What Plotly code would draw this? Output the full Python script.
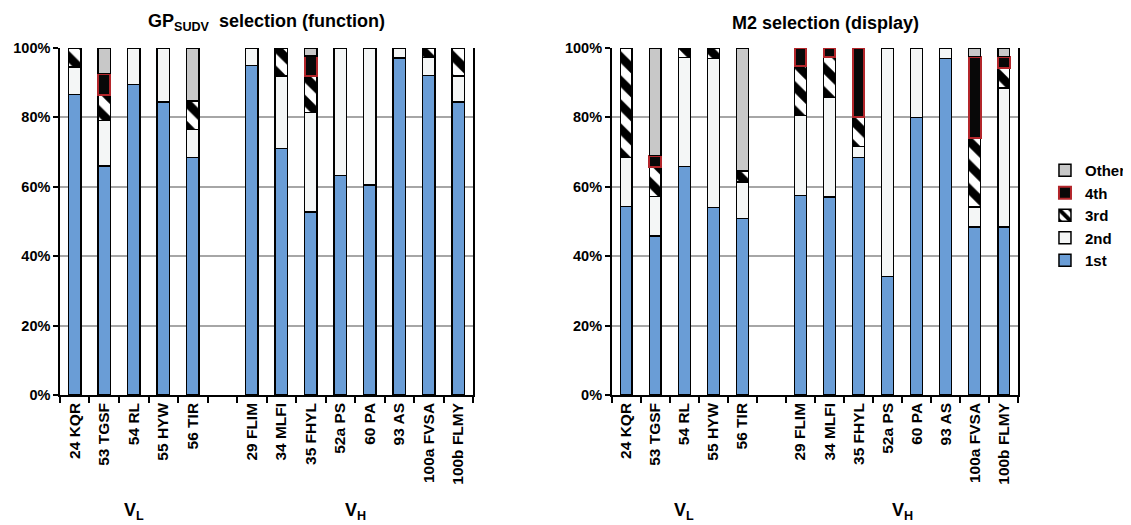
import plotly.graph_objects as go

categories = ["24 KQR", "53 TGSF", "54 RL", "55 HYW", "56 TIR",
              "29 FLIM", "34 MLFI", "35 FHYL", "52a PS", "60 PA", "93 AS", "100a FVSA", "100b FLMY"]
n_vl = 5  # first 5 categories are V_L, the rest V_H

# GP_SUDV selection (function), percent
gp_1st   = [86.6, 66.0, 89.5, 84.4, 68.5, 94.9, 71.0, 52.8, 63.2, 60.5, 97.1, 92.1, 84.4]
gp_2nd   = [8.0, 13.1, 10.5, 15.6, 8.0, 5.1, 21.0, 28.6, 36.8, 39.5, 2.9, 5.1, 7.6]
gp_3rd   = [5.4, 7.3, 0, 0, 8.3, 0, 8.0, 10.6, 0, 0, 0, 2.8, 8.0]
gp_4th   = [0, 6.2, 0, 0, 0, 0, 0, 5.7, 0, 0, 0, 0, 0]
gp_other = [0, 7.4, 0, 0, 15.2, 0, 0, 2.3, 0, 0, 0, 0, 0]

# M2 selection (display), percent
m2_1st   = [54.3, 45.8, 65.8, 54.0, 50.8, 57.5, 57.1, 68.5, 34.1, 80.0, 97.0, 48.4, 48.4]
m2_2nd   = [14.2, 11.4, 31.5, 43.0, 10.6, 23.1, 28.6, 3.1, 65.9, 20.0, 3.0, 5.8, 40.1]
m2_3rd   = [31.5, 8.6, 2.7, 3.0, 3.2, 14.2, 11.6, 8.5, 0, 0, 0, 19.9, 5.8]
m2_4th   = [0, 3.2, 0, 0, 0, 5.2, 2.7, 19.9, 0, 0, 0, 23.4, 3.2]
m2_other = [0, 31.0, 0, 0, 35.4, 0, 0, 0, 0, 0, 0, 2.5, 2.5]

y_ticks = [0, 20, 40, 60, 80, 100]
y_ticktext = ["0%", "20%", "40%", "60%", "80%", "100%"]

series_names = ["1st", "2nd", "3rd", "4th", "Other"]
panels = [
    ("GP<sub>SUDV</sub>\u00a0\u00a0selection (function)", [gp_1st, gp_2nd, gp_3rd, gp_4th, gp_other]),
    ("M2 selection (display)", [m2_1st, m2_2nd, m2_3rd, m2_4th, m2_other]),
]

# positions on the category axis, leaving one empty slot between V_L and V_H
pos = [i + (1 if i >= n_vl else 0) for i in range(len(categories))]
n_slots = len(categories) + 1

FONT = "Liberation Sans, Arial, sans-serif"
styles = {
    "1st":   dict(color="#6A9DD6", line=dict(color="black", width=1.5)),
    "2nd":   dict(color="#F4F6F6", line=dict(color="black", width=1.5)),
    "3rd":   dict(color="white", line=dict(color="black", width=1.5),
                  pattern=dict(shape="\\", fgcolor="black", bgcolor="white", size=17,
                               solidity=0.5, fgopacity=1)),
    "4th":   dict(color="#080808", line=dict(color="#B3262B", width=2)),
    "Other": dict(color="#C8C8C8", line=dict(color="black", width=1.5)),
}

fig = go.Figure()
for k, (title, data) in enumerate(panels):
    xa = "x" if k == 0 else "x2"
    ya = "y" if k == 0 else "y2"
    for name, vals in zip(series_names, data):
        fig.add_trace(go.Bar(
            x=pos, y=[v if v > 0 else None for v in vals], name=name,
            xaxis=xa, yaxis=ya, marker=styles[name],
            showlegend=(k == 0), legendgroup=name,
        ))

# figure is placed 8px in from the page's top-left corner (default body margin)
W, H = 1123, 517
domains = [(0.0463, 0.4141), (0.5376, 0.8996)]
y_domain = (0.2515, 0.9226)

axis_common_x = dict(
    range=[-0.5, n_slots - 0.5], tickmode="array", tickvals=pos, ticktext=categories,
    tickangle=-90, ticks="", showline=True, linecolor="black", linewidth=1.5,
    showgrid=False, zeroline=False, automargin=False,
    tickfont=dict(family=FONT, size=15.5, color="black", weight="bold"),
    minor=dict(ticks="outside", ticklen=6, tickwidth=1.5, tickcolor="black",
               tickmode="linear", tick0=-0.5, dtick=1, showgrid=False),
)
axis_common_y = dict(
    domain=list(y_domain), range=[0, 100], tickmode="array", tickvals=y_ticks, ticktext=y_ticktext,
    ticks="outside", ticklen=5, tickwidth=1.5, tickcolor="black",
    showline=True, mirror=True, linecolor="black", linewidth=1.5,
    showgrid=True, gridcolor="#A6A6A6", gridwidth=1.5, zeroline=False, automargin=False,
    tickfont=dict(family=FONT, size=14.5, color="black", weight="bold"),
)

fig.update_layout(
    width=W, height=H, margin=dict(l=0, r=0, t=0, b=0, autoexpand=False),
    paper_bgcolor="white", plot_bgcolor="white",
    barmode="stack", bargap=0.59,
    font=dict(family=FONT, color="black"),
    xaxis=dict(domain=list(domains[0]), anchor="y", **axis_common_x),
    yaxis=dict(anchor="x", **axis_common_y),
    xaxis2=dict(domain=list(domains[1]), anchor="y2", **axis_common_x),
    yaxis2=dict(anchor="x2", **axis_common_y),
    legend=dict(x=0.9234, y=0.7176, xanchor="left", yanchor="top", traceorder="reversed",
                font=dict(family=FONT, size=15, color="black", weight="bold"),
                bgcolor="rgba(0,0,0,0)", tracegroupgap=0, itemwidth=30),
    showlegend=True,
)

annotations = []
title_x = [0.2306, 0.7284]
for k, (title, data) in enumerate(panels):
    annotations.append(dict(text=title, x=title_x[k], y=0.971, xref="paper", yref="paper",
                            xanchor="center", yanchor="middle", showarrow=False,
                            font=dict(family=FONT, size=18, color="black", weight="bold")))
    xr = "x" if k == 0 else "x2"
    vl_center = sum(pos[:n_vl]) / n_vl
    vh_center = sum(pos[n_vl:]) / (len(pos) - n_vl)
    for label, cx in [("V<sub>L</sub>", vl_center), ("V<sub>H</sub>", vh_center)]:
        annotations.append(dict(text=label, x=cx, y=0.026, xref=xr, yref="paper",
                                xanchor="center", yanchor="middle", showarrow=False,
                                font=dict(family=FONT, size=18, color="black", weight="bold")))
fig.update_layout(annotations=annotations)

fig.write_html("out.html")
